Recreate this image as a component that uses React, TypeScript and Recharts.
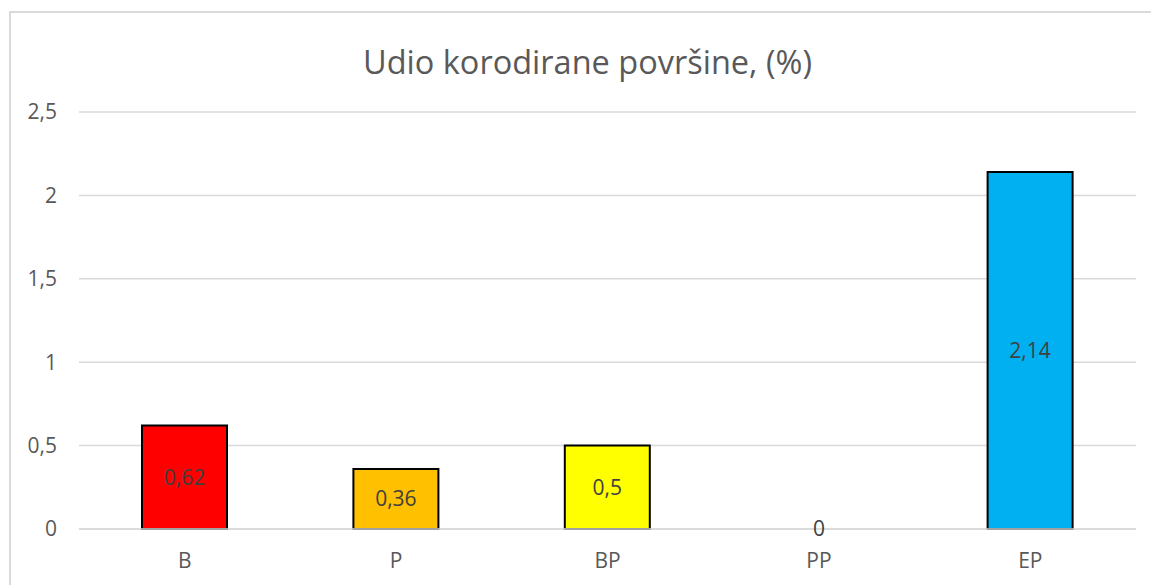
import { BarChart, Bar, XAxis, YAxis, CartesianGrid, Cell, LabelList, ReferenceDot } from "recharts";

const categories = ["B", "P", "BP", "PP", "EP"];
const values = [0.62, 0.36, 0.5, 0, 2.14];
const barColors = ["#FF0000", "#FFC000", "#FFFF00", "#92D050", "#00B0F0"];
const yTicks = [0, 0.5, 1, 1.5, 2, 2.5];
const title = "Udio korodirane površine, (%)";

const data = categories.map((name, i) => ({ name, value: values[i] }));

const fmt = (v: number) => String(v).replace(".", ",");
const font = "'Open Sans', sans-serif";

export default function App() {
  return (
    <div
      style={{
        position: "absolute",
        left: 0,
        top: 0,
        width: 1151,
        height: 585,
        background: "#fff",
        fontFamily: font,
        overflow: "hidden",
      }}
    >
      <div
        style={{
          position: "absolute",
          left: 9,
          top: 11,
          width: 1160,
          height: 600,
          borderLeft: "2px solid #d9d9d9",
          borderTop: "2px solid #d9d9d9",
        }}
      />
      <div
        style={{
          position: "absolute",
          left: 12,
          width: 1151,
          top: 38,
          textAlign: "center",
          fontSize: 32.5,
          color: "#595959",
          lineHeight: "48px",
        }}
      >
        {title}
      </div>
      <div style={{ position: "absolute", left: 0, top: 0 }}>
        <BarChart
          width={1151}
          height={585}
          data={data}
          margin={{ top: 112, right: 15, bottom: 0, left: 0 }}
        >
          <CartesianGrid vertical={false} stroke="#d9d9d9" strokeWidth={1.5} />
          <XAxis
            dataKey="name"
            height={56}
            axisLine={{ stroke: "#d9d9d9", strokeWidth: 1.5 }}
            tickLine={false}
            tickMargin={18}
            tick={{ fill: "#595959", fontSize: 21, fontFamily: font }}
          />
          <YAxis
            width={79}
            domain={[0, 2.5]}
            ticks={yTicks}
            axisLine={false}
            tickLine={false}
            tickMargin={16}
            tickFormatter={fmt}
            tick={{ fill: "#595959", fontSize: 21, fontFamily: font }}
          />
          <Bar
            dataKey="value"
            barSize={85}
            stroke="#000"
            strokeWidth={2}
            isAnimationActive={false}
          >
            {data.map((d, i) => (
              <Cell key={d.name} fill={barColors[i]} />
            ))}
            <LabelList
              dataKey="value"
              position="center"
              formatter={(v: number) => fmt(v)}
              fill="#404040"
              fontSize={21}
              fontFamily={font}
            />
          </Bar>
          {data
            .filter((d) => d.value === 0)
            .map((d) => (
              <ReferenceDot
                key={d.name}
                x={d.name}
                y={d.value}
                r={0}
                fill="none"
                stroke="none"
                label={{
                  value: fmt(d.value),
                  position: "center",
                  fill: "#404040",
                  fontSize: 21,
                  fontFamily: font,
                }}
              />
            ))}
        </BarChart>
      </div>
    </div>
  );
}
